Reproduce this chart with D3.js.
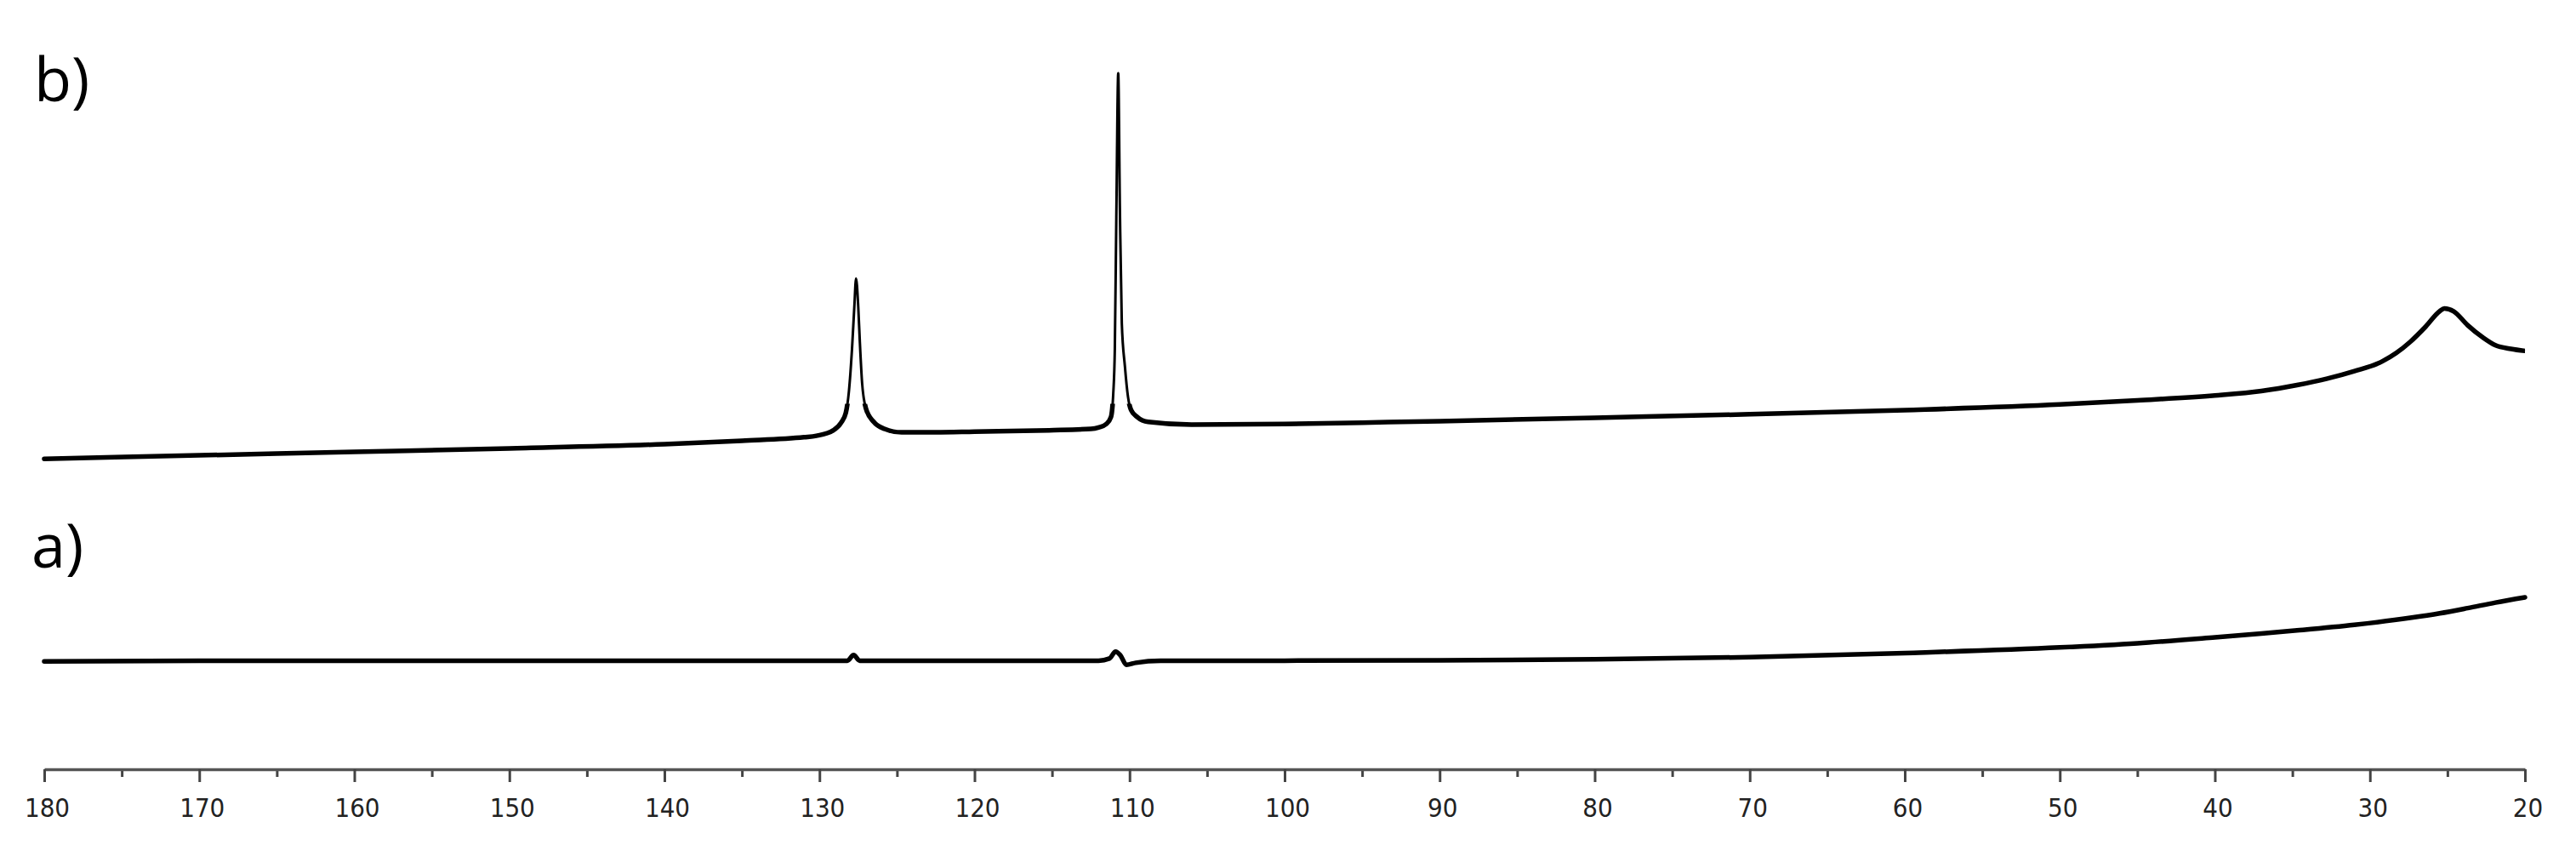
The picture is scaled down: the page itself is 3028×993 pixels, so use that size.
<!DOCTYPE html>
<html>
<head>
<meta charset="utf-8">
<script src="https://cdn.jsdelivr.net/npm/d3@7/dist/d3.min.js"></script>
<style>
  html, body { margin: 0; padding: 0; background: #fff; }
  svg { display: block; }
</style>
</head>
<body>
<svg id="chart" width="3028" height="993"></svg>
<script>
// ---- Data (chemical shift in ppm, intensity in arbitrary units; 111 ppm peak of b = 100) ----
const ppmB = [180, 170, 160, 150, 140, 135, 131, 130.2, 129.1, 128.6, 128.3, 128.1, 127.9, 127.75, 127.64,
  127.5, 127.4, 127.25, 127.0, 126.5, 125.8, 124.7, 122.5, 120, 115.2, 112.5, 112.0, 111.5, 111.2, 111.05,
  110.95, 110.85, 110.73, 110.62, 110.5, 110.3, 110.1, 109.9, 109.5, 108.8, 106, 100, 95, 90, 80, 70, 60,
  50, 45, 40, 37, 34.7, 32.8, 31.0, 29.2, 28.3, 27.4, 26.4, 25.5, 25.2, 24.6, 23.7, 22.7, 21.9, 20.9, 20.0];
const intB = [44.6, 45.1, 45.6, 46.1, 46.7, 47.2, 47.7, 47.9, 48.7, 49.8, 51.2, 54.3, 60.4, 66.5, 70.5,
  66.5, 61.6, 55.5, 51.8, 49.9, 48.9, 48.4, 48.4, 48.5, 48.7, 48.9, 49.1, 49.6, 50.6, 54.0,
  60.4, 80.0, 100, 80.0, 64.1, 57.9, 53.5, 51.6, 50.6, 49.9, 49.5, 49.6, 49.8, 50.0, 50.5, 51.0, 51.6,
  52.4, 53.0, 53.7, 54.35, 55.2, 56.1, 57.2, 58.6, 59.8, 61.4, 63.6, 65.8, 66.2, 65.8, 63.8, 62.0, 60.9, 60.4, 60.1];

const ppmA = [180, 170, 160, 150, 140, 130, 128.2, 127.8, 127.4, 120, 115, 112, 111.3, 110.9, 110.6, 110.2,
  109.6, 108, 100, 90, 80, 70, 60, 50, 45, 40, 37, 34.7, 31.0, 27.4, 25.5, 23.7, 21.9, 20.0];
const intA = [15.5, 15.6, 15.6, 15.6, 15.6, 15.6, 15.6, 16.4, 15.6, 15.6, 15.6, 15.6, 15.9, 16.9, 16.4, 15.0,
  15.3, 15.6, 15.6, 15.65, 15.8, 16.1, 16.7, 17.5, 18.1, 18.95, 19.5, 19.95, 20.75, 21.75, 22.4, 23.15, 23.95, 24.7];

const majorTicks = [180, 170, 160, 150, 140, 130, 120, 110, 100, 90, 80, 70, 60, 50, 40, 30, 20];
const minorTicks = [175, 165, 155, 145, 135, 125, 115, 105, 95, 85, 75, 65, 55, 45, 35, 25];
const traceLabels = ["b)", "a)"];
// narrow peaks of b, drawn with a thinner pen (ppm ranges)
const sharpPeaks = [[128.9, 126.6], [111.6, 109.8]];

// ---- Layout ----
const W = 3028, H = 993;
const svg = d3.select("#chart");
const x = d3.scaleLinear().domain([180, 20]).range([52, 2968]);
const y = d3.scaleLinear().domain([0, 100]).range([904, 86]);
const axisY = 904;

const line = d3.line()
  .x(d => x(d[0]))
  .y(d => y(d[1]))
  .curve(d3.curveMonotoneX);

const seriesB = ppmB.map((p, i) => [p, intB[i]]);
const seriesA = ppmA.map((p, i) => [p, intA[i]]);

// clip: everything except the upper parts of the sharp peaks
const defs = svg.append("defs");
const clip = defs.append("clipPath").attr("id", "baseClip");
clip.append("rect").attr("x", 0).attr("y", y(52.5)).attr("width", W).attr("height", H);
const edges = [180].concat(...sharpPeaks).concat([20]);
for (let i = 0; i < edges.length; i += 2) {
  clip.append("rect")
    .attr("x", x(edges[i]))
    .attr("y", 0)
    .attr("width", x(edges[i + 1]) - x(edges[i]))
    .attr("height", H);
}

[seriesB, seriesA].forEach(s => {
  svg.append("path")
    .datum(s)
    .attr("d", line)
    .attr("fill", "none")
    .attr("stroke", "#000")
    .attr("stroke-width", 3)
    .attr("stroke-linejoin", "round");
  svg.append("path")
    .datum(s)
    .attr("d", line)
    .attr("fill", "none")
    .attr("stroke", "#000")
    .attr("stroke-width", 5.5)
    .attr("stroke-linejoin", "round")
    .attr("stroke-linecap", "round")
    .attr("clip-path", "url(#baseClip)");
});

// ---- Axis ----
const gMinor = svg.append("g").attr("transform", `translate(0,${axisY})`)
  .call(d3.axisBottom(x).tickValues(minorTicks).tickSize(9).tickSizeOuter(0).tickFormat(""));
gMinor.select(".domain").remove();
gMinor.selectAll(".tick line").attr("stroke", "#444").attr("stroke-width", 3);

const gMajor = svg.append("g").attr("transform", `translate(0,${axisY})`)
  .call(d3.axisBottom(x).tickValues(majorTicks).tickSize(15).tickSizeOuter(0).tickFormat(d3.format("d")));
gMajor.select(".domain").attr("stroke", "#555").attr("stroke-width", 3.5);
gMajor.selectAll(".tick line").attr("stroke", "#444").attr("stroke-width", 3);
gMajor.selectAll(".tick text")
  .attr("y", 56).attr("dy", 0).attr("dx", 3)
  .attr("fill", "#222")
  .style("font-family", '"DejaVu Sans Condensed", "DejaVu Sans", sans-serif')
  .style("font-stretch", "condensed")
  .style("font-size", "31px");

// ---- Trace labels ----
const labelPos = [[40, 119], [37, 667]];
traceLabels.forEach((t, i) => {
  svg.append("text")
    .attr("x", labelPos[i][0])
    .attr("y", labelPos[i][1])
    .attr("fill", "#000")
    .style("font-family", '"Open Sans", sans-serif')
    .style("font-size", "72px")
    .text(t);
});
</script>
</body>
</html>
